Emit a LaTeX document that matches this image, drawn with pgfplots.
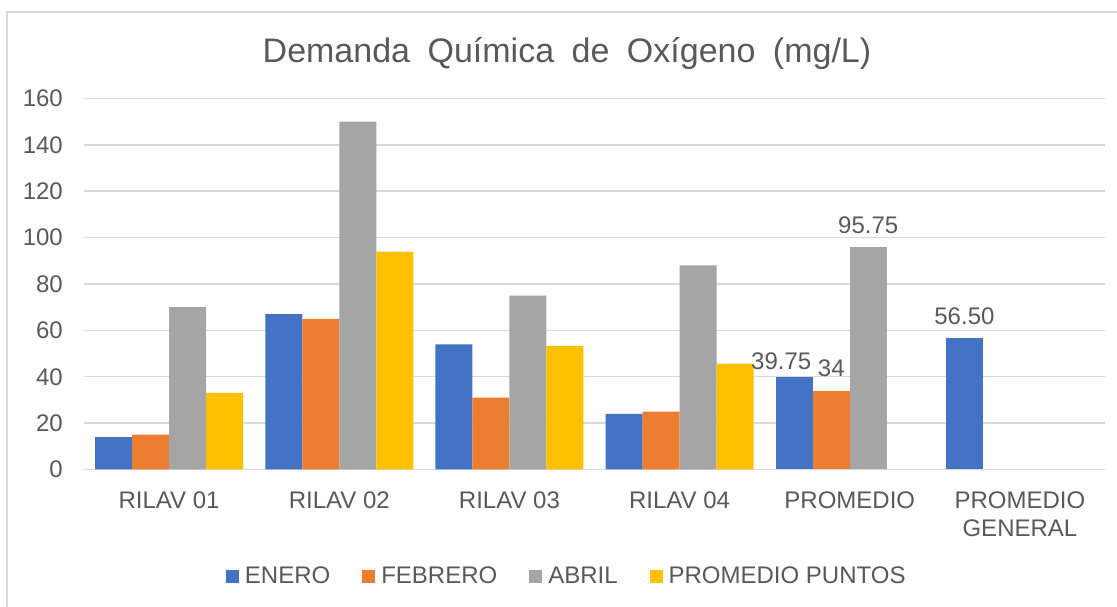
\documentclass[border=0pt]{standalone}
\usepackage{pgfplots}
\pgfplotsset{compat=1.18}
\usepackage{fontspec}
\setmainfont{Liberation Sans}
\definecolor{cblue}{HTML}{4472C4}
\definecolor{corange}{HTML}{ED7D31}
\definecolor{cgray}{HTML}{A5A5A5}
\definecolor{cyellow}{HTML}{FFC000}
\definecolor{ctext}{HTML}{595959}
\definecolor{cgrid}{HTML}{D9D9D9}
\newcommand{\lbl}{\fontsize{24}{28}\selectfont}
\begin{document}
\begin{tikzpicture}[x=1pt,y=1pt]
\path[use as bounding box] (0,0) rectangle (1117,607);
\draw[cgrid, line width=1.5pt] (7,-5) -- (7,595) -- (1125,595);
\node[anchor=base, text=ctext, font=\fontsize{34}{40}\selectfont, inner sep=0pt] at (567,544.3)
  {\spaceskip=17.5pt Demanda Química de Oxígeno (mg/L)};
\begin{axis}[
  at={(84pt,137.5pt)}, anchor=south west,
  scale only axis, width=1021pt, height=371pt,
  ymin=0, ymax=160, ytick={0,20,...,160},
  xmin=-0.5, xmax=5.5, xtick={0,...,5},
  xticklabels={RILAV 01, RILAV 02, RILAV 03, RILAV 04, PROMEDIO, {PROMEDIO\\GENERAL}},
  axis line style={draw=none},
  major tick length=0pt,
  ymajorgrids, grid style={cgrid, line width=1.5pt},
  /pgf/number format/assume math mode=true,
  yticklabel style={font=\lbl, text=ctext, inner sep=0pt, anchor=east, xshift=-21pt},
  xticklabel style={font=\lbl, text=ctext, inner sep=0pt, anchor=north, yshift=-22pt, align=center},
  ybar, bar width=37pt,
  legend columns=4,
  legend style={at={(0.139,-0.2876)}, anchor=west, draw=none, fill=none, inner sep=0pt, outer sep=0pt,
    font=\lbl, text=ctext,
    nodes={inner sep=0pt},
    /tikz/every odd column/.style={column sep=6pt},
    /tikz/every even column/.style={column sep=32pt}},
  nodes near coords style={inner sep=0pt, text=ctext, font=\lbl, anchor=base, yshift=14pt},
  sq/.style={legend image code/.code={\fill[##1] (0pt,-6.5pt) rectangle (13pt,6.5pt);}},
]
\addplot[fill=cblue, draw=none, bar shift=-55.5pt, sq] coordinates {(0,14) (1,67) (2,54) (3,24)};
\addplot[fill=corange, draw=none, bar shift=-18.5pt, sq] coordinates {(0,15) (1,65) (2,31) (3,25)};
\addplot[fill=cgray, draw=none, bar shift=18.5pt, sq] coordinates {(0,70) (1,150) (2,75) (3,88)};
\addplot[fill=cyellow, draw=none, bar shift=55.5pt, sq] coordinates {(0,33) (1,94) (2,53.33) (3,45.67)};
\legend{ENERO, FEBRERO, ABRIL, PROMEDIO PUNTOS}
\addplot[fill=cblue, draw=none, bar shift=-55.5pt, forget plot, nodes near coords={39.75},
  nodes near coords style={xshift=-13pt, yshift=-6.5pt}] coordinates {(4,39.75)};
\addplot[fill=cblue, draw=none, bar shift=-55.5pt, forget plot, nodes near coords={56.50}] coordinates {(5,56.5)};
\addplot[fill=corange, draw=none, bar shift=-18.5pt, forget plot, nodes near coords={34}] coordinates {(4,34)};
\addplot[fill=cgray, draw=none, bar shift=18.5pt, forget plot, nodes near coords={95.75}] coordinates {(4,95.75)};
\end{axis}
\end{tikzpicture}
\end{document}
